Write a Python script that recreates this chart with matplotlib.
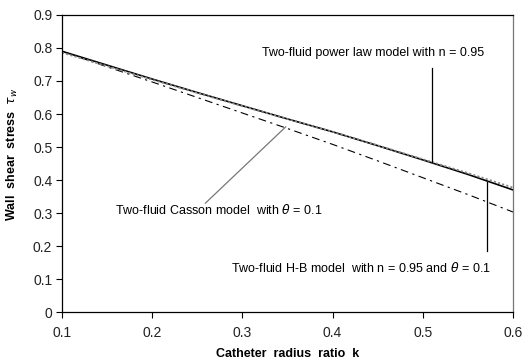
import matplotlib
matplotlib.use("Agg")
import matplotlib.pyplot as plt

plt.rcParams["font.family"] = ["Liberation Sans", "DejaVu Sans"]

# catheter radius ratio k
k = [0.10, 0.15, 0.20, 0.25, 0.30, 0.35, 0.40, 0.45, 0.50, 0.55, 0.60]
# wall shear stress
power_law = [0.790, 0.748, 0.706, 0.665, 0.625, 0.585, 0.546, 0.504, 0.461, 0.417, 0.370]
herschel_bulkley = [0.786, 0.745, 0.704, 0.664, 0.624, 0.585, 0.546, 0.505, 0.463, 0.421, 0.377]
casson = [0.790, 0.743, 0.697, 0.650, 0.603, 0.556, 0.508, 0.458, 0.407, 0.356, 0.303]

x_ticks = [0.1, 0.2, 0.3, 0.4, 0.5, 0.6]
y_ticks = [0, 0.1, 0.2, 0.3, 0.4, 0.5, 0.6, 0.7, 0.8, 0.9]

fig = plt.figure(figsize=(5.22, 3.62), dpi=100)
ax = fig.add_axes([0.1188, 0.138, 0.864, 0.8206])

ax.plot(k, casson, color="black", linewidth=0.8, dashes=(7, 4, 2, 4))
ax.plot(k, power_law, color="black", linewidth=1.2)
ax.plot(k, herschel_bulkley, color="#888888", linewidth=1.3, linestyle=(0, (1.2, 1.2)))

# annotation leader lines
ax.plot([0.51, 0.51], [0.739, 0.455], color="black", linewidth=0.9)
ax.plot([0.259, 0.348], [0.33, 0.561], color="#777777", linewidth=0.9)
ax.plot([0.571, 0.571], [0.394, 0.186], color="black", linewidth=0.9)

ax.text(0.322, 0.785, "Two-fluid power law model with n = 0.95",
        fontsize=9, va="center", ha="left")
ax.text(0.159, 0.309, r"Two-fluid Casson model  with $\theta$ = 0.1",
        fontsize=9, va="center", ha="left")
ax.text(0.287, 0.133, r"Two-fluid H-B model  with n = 0.95 and $\theta$ = 0.1",
        fontsize=9, va="center", ha="left")

ax.set_xlim(0.1, 0.6)
ax.set_ylim(0, 0.9)
ax.set_xticks(x_ticks)
ax.set_yticks(y_ticks)
ax.set_xticklabels([f"{t:g}" for t in x_ticks])
ax.set_yticklabels([f"{t:g}" for t in y_ticks])
ax.tick_params(direction="out", length=4, width=0.8, labelsize=10,
               labelcolor="#222222", pad=3)
ax.tick_params(axis="x", pad=6)

for side in ["left", "bottom", "top"]:
    ax.spines[side].set_color("black")
    ax.spines[side].set_linewidth(0.9)
ax.spines["right"].set_color("#777777")
ax.spines["right"].set_linewidth(0.9)

ax.set_xlabel("Catheter  radius  ratio  k", fontsize=9, fontweight="bold", labelpad=6)
ax.set_ylabel(r"Wall  shear  stress  $\tau_w$", fontsize=9, fontweight="bold", labelpad=4)
ax.yaxis.set_label_coords(-0.093, 0.53)

fig.savefig("out.png", dpi=100)
